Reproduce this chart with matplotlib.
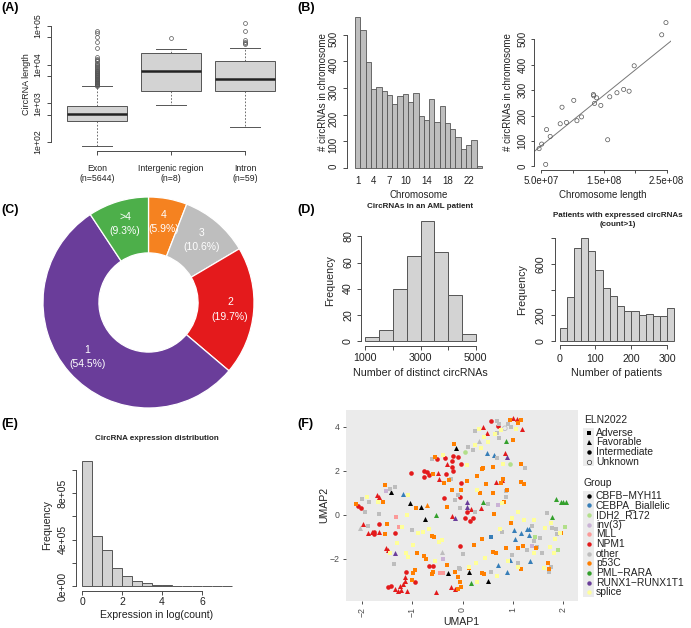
#!/usr/bin/env python3
"""Six-panel circRNA summary figure (A-F), redrawn with matplotlib."""
import numpy as np
import matplotlib
matplotlib.use("Agg")
import matplotlib.pyplot as plt
from matplotlib.lines import Line2D
from matplotlib.patches import Rectangle
from matplotlib.ticker import NullLocator

plt.rcParams["font.family"] = ["Liberation Sans", "DejaVu Sans"]

# ---------------------------------------------------------------------------
# Data
# ---------------------------------------------------------------------------
# (A) circRNA length by region (box statistics)
BOX_LABELS = ["Exon\n(n=5644)", "Intergenic region\n(n=8)", "Intron\n(n=59)"]
BOX_Q1 = [347, 2090, 2090]
BOX_MED = [527, 6760, 4170]
BOX_Q3 = [875, 19950, 12300]
BOX_WLO = [79, 912, 245]
BOX_WHI = [2800, 25700, 26300]
EXON_OUT = [2850, 2950, 3050, 3150, 3250, 3350, 3450, 3600, 3750, 3900, 4050,
            4200, 4350, 4500, 4700, 4900, 5100, 5300, 5500, 5700, 5900, 6100,
            6400, 6700, 7000, 7300, 7600, 8000, 8500, 9000, 9600, 10200, 11000,
            12000, 13000, 14000, 15500, 26900, 38000, 51000, 66000, 74000]
INTERGENIC_OUT = [49000]
INTRON_OUT = [117500, 74000, 43600, 38900, 36300, 33900]

# (B) circRNAs per chromosome
CHROMS = [str(i) for i in range(1, 23)] + ["X", "Y"]
CHR_SHOWN = ["1", "4", "7", "10", "14", "18", "22"]
CHR_COUNTS = [566, 518, 396, 296, 303, 290, 274, 240, 270, 278, 248, 283,
              195, 180, 260, 173, 233, 168, 145, 118, 70, 88, 105, 8]
CHR_LEN = [248.96e6, 242.19e6, 198.30e6, 190.21e6, 181.54e6, 170.81e6,
           159.35e6, 145.14e6, 138.39e6, 133.80e6, 135.09e6, 133.28e6,
           114.36e6, 107.04e6, 101.99e6, 90.34e6, 83.26e6, 80.37e6,
           58.62e6, 64.44e6, 46.71e6, 50.82e6, 156.04e6, 57.23e6]

# (C) donut
RING_LABELS = ["4", "3", "2", "1", ">4"]
RING_PCT = [5.9, 10.6, 19.7, 54.5, 9.3]
RING_COLORS = ["#F58220", "#BEBEBE", "#E41A1C", "#6A3D9A", "#4DAF4A"]

# (D) histograms
DIST_EDGES = [1000, 1500, 2000, 2500, 3000, 3500, 4000, 4500, 5000]
DIST_COUNTS = [3, 8, 40, 65, 92, 68, 35, 5]
PAT_EDGES = [0, 20, 40, 60, 80, 100, 120, 140, 160, 180, 200, 220, 240, 260,
             280, 300, 320]
PAT_COUNTS = [100, 341, 721, 800, 703, 552, 409, 349, 273, 232, 232, 198,
              211, 193, 193, 255]

# (E) expression histogram
EXPR_EDGES = [0, 0.5, 1, 1.5, 2, 2.5, 3, 3.5, 4, 4.5, 5, 5.5, 6, 6.5, 7, 7.5]
EXPR_COUNTS = [1077000, 429000, 311000, 151000, 83000, 43000, 23000, 11000,
               5000, 2500, 1000, 500, 200, 100, 50]

# (F) UMAP, (UMAP1, UMAP2, ELN2022 code) per group
# a = Adverse, f = Favorable, i = Intermediate, u = Unknown
CBFB = [(-0.12, 3.03, "f"), (-1.41, 1.03, "f"), (-1.04, 0.56, "f"), (-0.82, 0.38, "f"),
        (-0.74, -0.20, "f"), (-0.28, -2.62, "f"), (0.13, -2.58, "f"), (0.51, -2.98, "f")]
CEBPA = [(0.49, 2.80, "f"), (0.63, 2.73, "f"), (-1.17, 0.94, "f"), (1.02, -0.68, "f"),
         (1.15, -0.83, "f"), (1.27, -0.65, "f"), (1.32, -0.65, "f"), (1.32, -0.91, "f"),
         (1.04, -1.11, "f"), (0.57, -0.98, "a"), (0.94, -2.05, "f"), (0.70, -2.27, "f"),
         (0.88, -2.61, "f"), (1.34, -2.08, "f")]
IDH2 = [(0.05, 2.88, "i"), (0.94, 2.30, "i"), (2.03, -0.53, "a"), (1.44, -0.98, "a"),
        (1.90, -1.59, "a"), (1.62, -2.39, "a")]
INV3 = [(-1.52, 1.11, "a"), (0.70, 0.45, "a"), (-0.39, -2.02, "a"), (1.37, -1.39, "a")]
MLL = [(-1.31, -0.11, "a"), (-1.25, -0.53, "a"), (-0.45, -2.62, "a"), (-0.38, -2.62, "a")]
NPM1 = [(0.57, 4.29, "i"), (0.71, 4.06, "i"), (1.01, 4.39, "f"), (1.09, 4.36, "f"),
        (1.17, 3.89, "f"), (0.49, 3.71, "f"), (0.41, 3.98, "f"), (0.84, 2.83, "f"),
        (-0.51, 2.53, "i"), (-0.35, 2.58, "i"), (-0.18, 2.68, "i"), (-0.20, 2.47, "i"),
        (-0.08, 2.62, "i"), (-0.31, 2.32, "f"), (-0.20, 2.17, "i"), (-0.18, 2.02, "i"),
        (-0.02, 2.30, "i"), (-1.02, 1.89, "i"), (-0.76, 2.00, "i"), (-0.71, 1.97, "i"),
        (-0.76, 1.74, "i"), (-0.66, 1.82, "i"), (-0.48, 1.92, "f"), (-0.47, 1.64, "f"),
        (-0.33, 1.85, "i"), (-0.02, 1.44, "i"), (0.66, 1.52, "f"), (0.78, 1.59, "f"),
        (-0.05, 0.83, "i"), (0.08, 0.12, "i"), (0.15, -0.26, "i"), (0.20, -0.15, "i"),
        (0.36, 0.33, "f"), (0.04, -0.15, "i"), (0.17, 0.27, "f"), (-0.20, -0.03, "f"),
        (-0.36, 0.76, "i"), (-1.69, 0.91, "f"), (-1.65, 0.80, "f"), (-2.08, 0.42, "i"),
        (-2.01, 0.30, "i"), (-1.97, -0.42, "f"), (-1.88, -0.83, "f"), (-1.79, -0.76, "f"),
        (-1.76, -0.86, "i"), (-1.75, -0.76, "i"), (-1.66, -0.76, "f"), (-1.65, -0.41, "i"),
        (-1.34, -0.80, "i"), (-1.52, -1.52, "f"), (-1.48, -1.59, "f"), (-1.12, -2.58, "i"),
        (-1.14, -2.80, "f"), (-1.14, -2.98, "f"), (-0.94, -3.03, "i"), (-1.17, -3.14, "f"),
        (-0.66, -2.30, "i"), (-0.58, -2.32, "i"), (-1.47, -3.29, "i"), (-1.42, -3.23, "i"),
        (-1.34, -3.38, "f"), (-1.27, -3.44, "f"), (-1.21, -3.41, "f"), (-1.11, -3.44, "f"),
        (-1.24, -3.23, "f"), (-0.53, -3.52, "f"), (-0.22, -3.29, "f"), (-0.15, -3.38, "f"),
        (-0.04, -1.39, "i")]
OTHER = [(0.69, 4.29, "a"), (0.72, 4.14, "a"), (0.91, 4.12, "a"), (0.97, 4.02, "a"),
         (0.25, 3.82, "a"), (0.68, 3.71, "a"), (0.73, 3.48, "a"), (0.10, 3.11, "a"),
         (0.20, 2.95, "a"), (0.69, 2.61, "a"), (1.23, 2.12, "a"), (-0.60, 2.55, "a"),
         (-0.23, 1.62, "a"), (0.86, 1.09, "a"), (0.87, 0.82, "a"), (-0.08, 0.91, "a"),
         (-0.15, 0.68, "a"), (-0.05, 0.30, "a"), (0.25, 0.15, "a"), (0.51, 0.48, "a"),
         (-1.44, 1.18, "a"), (-1.34, 1.26, "a"), (-2.00, 0.73, "a"), (-1.86, 0.58, "a"),
         (-1.94, 0.15, "a"), (-1.65, 0.05, "a"), (-1.87, -0.48, "a"), (-1.00, -0.68, "a"),
         (-1.35, -2.24, "a"), (-0.04, -2.47, "a"), (0.56, -2.58, "a"), (1.38, -0.50, "a"),
         (0.98, -1.82, "a"), (1.27, -1.59, "a"), (1.47, -1.44, "a"), (1.57, -1.74, "a"),
         (1.67, 0.08, "a"), (1.77, -0.61, "a"), (1.86, -0.65, "a"), (1.72, -2.58, "a"),
         (0.78, -0.76, "a"), (0.00, -1.79, "a"), (1.54, -1.06, "a"), (1.42, -1.17, "a"),
         (1.88, -0.88, "a"), (1.11, -2.20, "a"), (1.76, -2.35, "a"), (-0.07, -2.39, "a"),
         (0.33, 3.36, "f"), (-2.03, -0.61, "f"), (-0.41, -1.70, "f"), (0.84, 3.94, "u")]
P53C = [(1.11, 4.17, "a"), (1.15, 4.32, "a"), (0.94, 4.32, "a"), (1.01, 3.41, "a"),
        (-0.16, 3.21, "a"), (-0.55, 2.62, "a"), (-0.59, 1.86, "a"), (0.41, 2.15, "a"),
        (0.39, 2.09, "a"), (0.61, 2.20, "a"), (1.15, 2.32, "a"), (0.29, 1.79, "a"),
        (0.08, 1.55, "a"), (-0.26, 1.59, "a"), (-0.37, 1.44, "a"), (0.46, 1.41, "a"),
        (0.76, 1.47, "a"), (0.81, 1.64, "a"), (1.15, 1.52, "a"), (1.21, 1.42, "a"),
        (-0.20, 1.14, "a"), (-0.02, 1.14, "a"), (0.35, 0.98, "a"), (0.82, 0.61, "a"),
        (0.88, 1.14, "a"), (0.60, 0.98, "a"), (-1.54, 1.36, "a"), (-1.58, 0.61, "a"),
        (-2.11, 0.50, "a"), (-0.93, 0.30, "a"), (-0.70, 0.45, "f"), (-0.30, 0.38, "a"),
        (-1.50, -0.41, "a"), (-1.54, -0.88, "a"), (-0.60, -0.95, "a"), (-0.56, -0.98, "a"),
        (-0.90, -1.74, "a"), (-0.76, -1.86, "a"), (-0.72, -2.00, "a"), (-0.94, -2.50, "a"),
        (-0.98, -2.65, "a"), (-1.01, -2.95, "a"), (-0.58, -2.58, "a"), (-0.60, -2.70, "a"),
        (-0.15, -2.58, "a"), (-0.08, -2.80, "a"), (-0.05, -3.03, "a"), (-0.02, -3.26, "a"),
        (-0.08, -3.36, "a"), (0.38, -2.65, "a"), (-0.31, -2.27, "a"), (0.23, -1.36, "a"),
        (0.63, 0.03, "a"), (0.96, -0.38, "a"), (0.39, -1.09, "a"), (0.61, -1.67, "a"),
        (0.66, -1.74, "a"), (0.86, -1.48, "a"), (1.11, -1.52, "a"), (1.19, -1.41, "a"),
        (1.46, -1.48, "a"), (1.95, -0.80, "a"), (1.70, -2.17, "a"), (1.72, -2.45, "a"),
        (1.15, -2.45, "a"), (0.43, -2.68, "a"), (0.12, -2.42, "a")]
PML = [(0.86, 3.36, "f"), (0.41, 0.58, "f"), (-0.53, 0.00, "f"), (1.86, 0.73, "f"),
       (1.95, 0.61, "f"), (2.00, 0.58, "f"), (2.05, 0.58, "f"), (1.78, -0.11, "f"),
       (0.16, -3.11, "f")]
RUNX1 = [(0.88, 2.65, "f"), (0.08, 0.61, "f"), (0.08, 0.38, "f"), (-0.15, -0.12, "f"),
         (-1.34, -1.71, "f")]
SPLICE = [(0.33, 3.91, "a"), (1.06, 3.91, "a"), (0.76, 3.86, "a"), (0.64, 3.67, "a"),
          (0.43, 3.56, "a"), (0.51, 3.33, "a"), (0.25, 3.18, "a"), (0.36, 3.03, "a"),
          (0.81, 2.32, "a"), (-0.39, 2.71, "a"), (0.08, 2.27, "a"), (0.28, 1.14, "a"),
          (0.78, 0.53, "a"), (1.11, 0.15, "a"), (1.22, -0.23, "a"), (-1.09, 0.92, "a"),
          (-1.90, 0.80, "a"), (-1.67, 0.61, "a"), (-1.10, -0.02, "a"), (-1.19, -0.53, "a"),
          (-0.88, -0.83, "a"), (-0.78, -0.76, "a"), (-0.66, -0.65, "a"), (-0.46, -1.23, "a"),
          (-0.41, -1.14, "a"), (-1.44, -1.74, "a"), (-1.29, -1.26, "a"), (-1.12, -1.74, "a"),
          (-1.09, -1.89, "a"), (-0.98, -1.36, "a"), (-0.55, -2.08, "a"), (0.13, -2.35, "a"),
          (0.28, -3.03, "a"), (0.68, -2.77, "a"), (1.64, -0.61, "a"), (1.76, -0.38, "a"),
          (1.93, -0.83, "a"), (1.84, -1.11, "a"), (1.74, -1.44, "a"), (1.82, -1.74, "a"),
          (1.41, -1.74, "a"), (1.62, -2.42, "a"), (0.91, -2.09, "a"), (0.45, -1.97, "a"),
          (0.74, -0.65, "a"), (1.41, -0.23, "a"), (0.98, -0.15, "a"), (0.26, -2.17, "a"),
          (1.11, -2.35, "a")]

GROUP_NAMES = ["CBFB\u2212MYH11", "CEBPA_Biallelic", "IDH2_R172", "inv(3)", "MLL",
               "NPM1", "other", "p53C", "PML\u2212RARA", "RUNX1\u2212RUNX1T1", "splice"]
GROUP_POINTS = [CBFB, CEBPA, IDH2, INV3, MLL, NPM1, OTHER, P53C, PML, RUNX1, SPLICE]
GROUP_COLORS = ["#000000", "#377EB8", "#B2DF8A", "#CAB2D6", "#FB9A99", "#E31A1C",
                "#BDBDBD", "#FF7F00", "#33A02C", "#6A3D9A", "#FFFF99"]
ELN_CODES = ["a", "f", "i", "u"]
ELN_NAMES = ["Adverse", "Favorable", "Intermediate", "Unknown"]
ELN_MARKERS = ["s", "^", "o", "o"]

# ---------------------------------------------------------------------------
# Helpers (layout in pixels of the 691x628 canvas)
# ---------------------------------------------------------------------------
W, H = 691, 628
LINE = "#4a4a4a"
TXT = "#222222"

fig = plt.figure(figsize=(W / 100, H / 100), dpi=100)


def px_axes(x0, y0, x1, y1):
    return fig.add_axes([x0 / W, 1 - y1 / H, (x1 - x0) / W, (y1 - y0) / H])


def ftext(x, y, s, **kw):
    kw.setdefault("color", TXT)
    kw.setdefault("ha", "center")
    kw.setdefault("va", "center")
    return fig.text(x / W, 1 - y / H, s, **kw)


def r_style(ax, fs, xb=None, yb=None, pad=2.5):
    for s in ("top", "right"):
        ax.spines[s].set_visible(False)
    for s in ("left", "bottom"):
        ax.spines[s].set_color(LINE)
        ax.spines[s].set_linewidth(0.7)
    if xb is not None:
        ax.spines["bottom"].set_bounds(*xb)
    if yb is not None:
        ax.spines["left"].set_bounds(*yb)
    ax.tick_params(colors=LINE, labelcolor=TXT, width=0.7, length=3.2,
                   labelsize=fs, pad=pad)
    ax.tick_params(axis="y", labelrotation=90)
    for t in ax.get_yticklabels():
        t.set_va("center")
    ax.set_facecolor("none")


# ---------------------------------------------------------------------------
# (A) boxplot
# ---------------------------------------------------------------------------
axA = px_axes(51, 18, 291, 151)
axA.set_yscale("log")
fliers = [EXON_OUT, INTERGENIC_OUT, INTRON_OUT]
stats = [dict(q1=BOX_Q1[i], med=BOX_MED[i], q3=BOX_Q3[i], whislo=BOX_WLO[i],
              whishi=BOX_WHI[i], fliers=fliers[i], label=BOX_LABELS[i])
         for i in range(3)]
axA.bxp(stats, positions=[1, 2, 3], widths=0.8, capwidths=0.4, patch_artist=True,
        boxprops=dict(facecolor="#D3D3D3", edgecolor="#555555", linewidth=0.7),
        medianprops=dict(color="#222222", linewidth=1.8),
        whiskerprops=dict(color="#555555", linewidth=0.6, linestyle=(0, (2, 2))),
        capprops=dict(color="#555555", linewidth=0.7),
        flierprops=dict(marker="o", markersize=2.8, markerfacecolor="none",
                        markeredgecolor="#555555", markeredgewidth=0.5))
axA.set_xlim(0.38, 3.62)
axA.set_ylim(10 ** 1.77, 10 ** 5.2)
axA.yaxis.set_minor_locator(NullLocator())
axA.set_yticks([1e2, 5e2, 1e3, 5e3, 1e4, 5e4, 1e5],
               ["1e+02", "", "1e+03", "", "1e+04", "", "1e+05"])
axA.set_xticks([1, 2, 3], BOX_LABELS)
r_style(axA, 6.3, xb=(1, 3), yb=(1e2, 1e5), pad=3)
axA.tick_params(axis="x", pad=6)
ftext(27, 84, "CircRNA length", fontsize=6.5, rotation=90)

# ---------------------------------------------------------------------------
# (B) per-chromosome bars and length scatter
# ---------------------------------------------------------------------------
axB1 = px_axes(350, 11, 487, 174)
xb = np.arange(len(CHROMS))
axB1.bar(xb, CHR_COUNTS, width=1, align="edge", color="#BEBEBE",
         edgecolor="#555555", linewidth=0.6)
axB1.set_xlim(-0.96, 24.96)
axB1.set_ylim(-22.6, 588.6)
axB1.set_yticks([0, 100, 200, 300, 400, 500])
axB1.set_xticks(xb + 0.5, [c if c in CHR_SHOWN else "" for c in CHROMS])
r_style(axB1, 7, yb=(0, 500), pad=3)
axB1.spines["bottom"].set_visible(False)
axB1.spines["left"].set_position(("outward", 2))
axB1.tick_params(axis="x", length=0, pad=1.5)
ftext(323, 92, "# circRNAs in chromosome", fontsize=7, rotation=90)
ftext(419, 195, "Chromosome", fontsize=7)

axB2 = px_axes(534, 17, 671, 170)
axB2.scatter(CHR_LEN, CHR_COUNTS, s=9, facecolors="none", edgecolors="#555555",
             linewidths=0.5, zorder=3)
slope, icpt = np.polyfit(CHR_LEN, CHR_COUNTS, 1)
xl = np.array([3.86e7, 2.57e8])
axB2.plot(xl, slope * xl + icpt, color="#777777", linewidth=0.7)
axB2.set_xlim(3.86e7, 2.57e8)
axB2.set_ylim(-14, 588)
axB2.set_yticks([0, 100, 200, 300, 400, 500])
axB2.set_xticks([5e7, 1e8, 1.5e8, 2e8, 2.5e8],
                ["5.0e+07", "", "1.5e+08", "", "2.5e+08"])
r_style(axB2, 7, xb=(5e7, 2.5e8), yb=(0, 500), pad=2)
axB2.tick_params(length=2.5)
ftext(508, 92, "# circRNAs in chromosome", fontsize=7, rotation=90)
ftext(603, 195, "Chromosome length", fontsize=7)

# ---------------------------------------------------------------------------
# (C) donut
# ---------------------------------------------------------------------------
axC = px_axes(43, 197, 254, 408)
axC.pie(RING_PCT, colors=RING_COLORS, startangle=90, counterclock=False,
        radius=1, wedgeprops=dict(width=0.53, edgecolor="white", linewidth=0.9))
axC.set_xlim(-1, 1)
axC.set_ylim(-1, 1)
cum = 0.0
for lab, pct in zip(RING_LABELS, RING_PCT):
    ang = np.deg2rad(90 - (cum + pct / 2) * 3.6)
    axC.text(0.775 * np.cos(ang), 0.775 * np.sin(ang), f"{lab}\n({pct}%)",
             color="white", fontsize=7.5, ha="center", va="center",
             linespacing=1.55)
    cum += pct

# ---------------------------------------------------------------------------
# (D) histograms
# ---------------------------------------------------------------------------
axD1 = px_axes(361, 216, 480, 345.5)
axD1.bar(DIST_EDGES[:-1], DIST_COUNTS, width=np.diff(DIST_EDGES), align="edge",
         color="#D3D3D3", edgecolor="#555555", linewidth=0.7)
axD1.set_xlim(840, 5160)
axD1.set_ylim(-3.68, 95.68)
axD1.set_yticks([0, 20, 40, 60, 80])
axD1.set_xticks([1000, 2000, 3000, 4000, 5000], ["1000", "", "3000", "", "5000"])
r_style(axD1, 7.7, xb=(1000, 5000), yb=(0, 80), pad=2.5)
ftext(420, 207, "CircRNAs in an AML patient", fontsize=5.8, fontweight="bold")
ftext(330, 281, "Frequency", fontsize=7.7, rotation=90)
ftext(420, 373, "Number of distinct circRNAs", fontsize=7.7)

axD2 = px_axes(555, 234, 679, 345)
axD2.bar(PAT_EDGES[:-1], PAT_COUNTS, width=np.diff(PAT_EDGES), align="edge",
         color="#D3D3D3", edgecolor="#555555", linewidth=0.7)
axD2.set_xlim(-12.8, 332.8)
axD2.set_ylim(-32, 832)
axD2.set_yticks([0, 200, 400, 600, 800], ["0", "200", "", "600", ""])
axD2.set_xticks([0, 100, 200, 300])
r_style(axD2, 7.7, xb=(0, 300), yb=(0, 800), pad=3.5)
ftext(618, 216, "Patients with expressed circRNAs", fontsize=5.8,
      fontweight="bold")
ftext(618, 225, "(count>1)", fontsize=5.8, fontweight="bold")
ftext(522, 290, "Frequency", fontsize=7.7, rotation=90)
ftext(617, 373, "Number of patients", fontsize=7.7)

# ---------------------------------------------------------------------------
# (E) expression histogram
# ---------------------------------------------------------------------------
axE = px_axes(76, 456, 238, 591)
axE.bar(EXPR_EDGES[:-1], EXPR_COUNTS, width=np.diff(EXPR_EDGES), align="edge",
        color="#D3D3D3", edgecolor="#555555", linewidth=0.7)
axE.set_xlim(-0.3, 7.8)
axE.set_ylim(-43080, 1.12e6)
axE.set_yticks([0, 2e5, 4e5, 6e5, 8e5, 1e6],
               ["0e+00", "", "4e+05", "", "8e+05", ""])
axE.set_xticks([0, 2, 4, 6])
r_style(axE, 7.5, xb=(0, 6), yb=(0, 1e6), pad=3)
axE.tick_params(axis="x", pad=1.2, length=3)
ftext(157, 439, "CircRNA expression distribution", fontsize=5.8,
      fontweight="bold")
ftext(47, 525, "Frequency", fontsize=7.6, rotation=90)
ftext(157, 615, "Expression in log(count)", fontsize=7.6)

# ---------------------------------------------------------------------------
# (F) UMAP scatter
# ---------------------------------------------------------------------------
axF = px_axes(346, 410, 578, 601)
axF.set_facecolor("#EBEBEB")
for pts, col in zip(GROUP_POINTS, GROUP_COLORS):
    for code, mk in zip(ELN_CODES, ELN_MARKERS):
        sel = [(x, y) for x, y, e in pts if e == code]
        if not sel:
            continue
        xs, ys = zip(*sel)
        size = {"s": 10, "^": 13, "o": 11}[mk]
        if code == "u":
            axF.scatter(xs, ys, s=size, marker=mk, facecolors="none",
                        edgecolors=col, linewidths=0.6, zorder=3)
        else:
            axF.scatter(xs, ys, s=size, marker=mk, color=col, linewidths=0,
                        zorder=3)
axF.set_xlim(-2.31, 2.29)
axF.set_ylim(-3.91, 4.77)
axF.set_xticks([-2, -1, 0, 1, 2], ["\u22122", "\u22121", "0", "1", "2"])
axF.set_yticks([-2, 0, 2, 4], ["\u22122", "0", "2", "4"])
for s in axF.spines.values():
    s.set_visible(False)
axF.tick_params(colors="#333333", labelcolor="#4D4D4D", length=2.5, width=0.6,
                labelsize=6.3, pad=2)
axF.tick_params(axis="x", labelrotation=90)
ftext(461, 622, "UMAP1", fontsize=7.6)
ftext(324, 505, "UMAP2", fontsize=7.6, rotation=90)


# legends (keys drawn on the canvas)
def key_rect(y0, y1):
    fig.patches.append(Rectangle((583 / W, 1 - y1 / H), 11 / W, (y1 - y0) / H,
                                 transform=fig.transFigure, facecolor="#EBEBEB",
                                 edgecolor="none"))


ftext(584, 420, "ELN2022", fontsize=7.4, ha="left")
key_rect(428, 466)
for k, (name, mk) in enumerate(zip(ELN_NAMES, ELN_MARKERS)):
    y = 432.7 + k * 9.67
    hollow = name == "Unknown"
    fig.add_artist(Line2D([588.5 / W], [1 - y / H], marker=mk, linestyle="none",
                          markersize=3.2 if mk != "^" else 3.6,
                          markerfacecolor="none" if hollow else "black",
                          markeredgecolor="#333333" if hollow else "black",
                          markeredgewidth=0.5 if hollow else 0,
                          transform=fig.transFigure))
    ftext(596, y, name, fontsize=7.4, ha="left")

ftext(584, 483.3, "Group", fontsize=7.4, ha="left")
key_rect(491, 597)
for k, (name, col) in enumerate(zip(GROUP_NAMES, GROUP_COLORS)):
    y = 495.7 + k * 9.67
    fig.add_artist(Line2D([588.5 / W], [1 - y / H], marker="o", linestyle="none",
                          markersize=3.2, markerfacecolor=col,
                          markeredgewidth=0, transform=fig.transFigure))
    ftext(596, y, name, fontsize=7.4, ha="left")

# ---------------------------------------------------------------------------
# panel tags
# ---------------------------------------------------------------------------
for tag, x, y in [("(A)", 1, 8), ("(B)", 297, 8), ("(C)", 1, 210),
                  ("(D)", 297, 210), ("(E)", 1, 424), ("(F)", 297, 424)]:
    ftext(x, y, tag, fontsize=9, fontweight="bold", ha="left", color="black")

fig.savefig("out.png", dpi=100)
plt.close(fig)
